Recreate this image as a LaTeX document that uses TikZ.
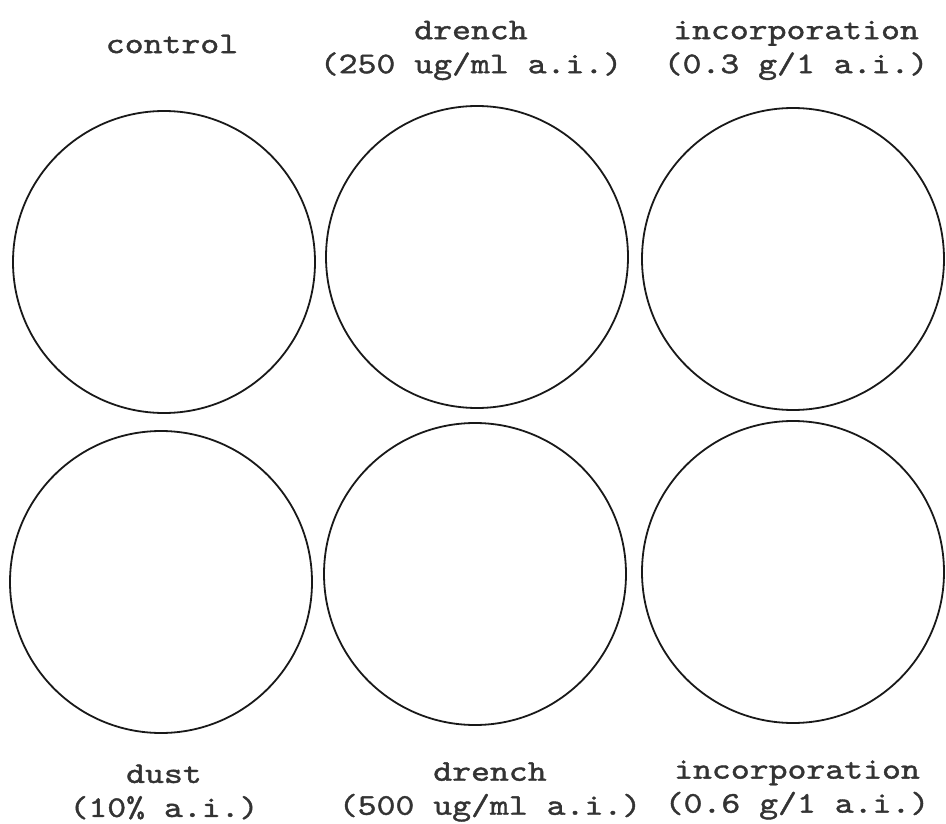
\documentclass[tikz,border=0pt]{standalone}
\usepackage{fontspec}
\newfontfamily\lbfont[FakeStretch=1.2,FakeBold=1.3]{lmmono10-regular.otf}
\tikzset{
  dish/.style={circle, draw=black!90, line width=1.8pt, minimum size=302pt, inner sep=0pt},
  lbl/.style={align=center, inner sep=0pt, text=black!80, font={\lbfont\fontsize{30}{34}\selectfont}}
}
\begin{document}
\begin{tikzpicture}[x=1pt,y=-1pt]
\useasboundingbox (0,0) rectangle (946,824);
% dishes
\node[dish] (c1) at (164,262) {};
\node[dish] (c2) at (477,257) {};
\node[dish] (c3) at (793,259) {};
\node[dish] (c4) at (161,582) {};
\node[dish] (c5) at (475,574) {};
\node[dish] (c6) at (793,572) {};
% labels
\node[lbl] (t1) at (172,44) {control};
\node[lbl] (t2) at (471,50.5) {drench\\(250 ug/ml a.i.)};
\node[lbl] (t3) at (796,50.5) {incorporation\\(0.3 g/1 a.i.)};
\node[lbl] (b1) at (164,792) {dust\\(10\% a.i.)};
\node[lbl] (b2) at (490,792) {drench\\(500 ug/ml a.i.)};
\node[lbl] (b3) at (797,790) {incorporation\\(0.6 g/1 a.i.)};
\end{tikzpicture}
\end{document}
